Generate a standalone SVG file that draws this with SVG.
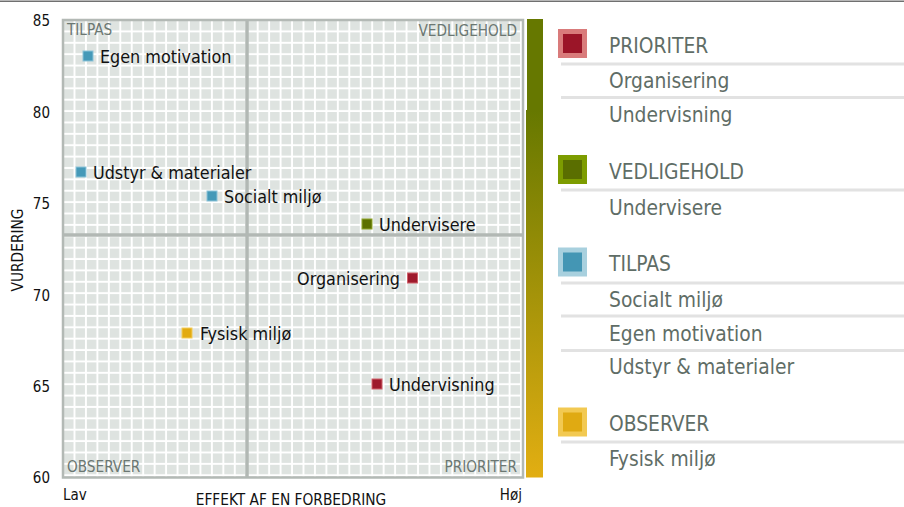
<svg xmlns="http://www.w3.org/2000/svg" width="904" height="507" viewBox="0 0 904 507">
<defs>
<style>
text{font-family:'DejaVu Sans Condensed','DejaVu Sans',sans-serif;font-stretch:condensed}
.ax{font-size:15px;fill:#111}
.xt{font-size:15.3px;fill:#111}
.q{font-size:15.2px;fill:#6b7772}
.lbl{font-size:17.8px;fill:#111}
.lg{font-size:20.8px;fill:#5f6d66}
.sep{stroke:#e2e2e2;stroke-width:3}
.div{stroke:#b2b8b4;stroke-width:3.5}
.mr{fill:#9e1a2c;stroke:#d0626b;stroke-width:1}
.mb{fill:#4599b8;stroke:#8cc3d8;stroke-width:1}
.mo{fill:#5c7000;stroke:#8fa52a;stroke-width:1}
.my{fill:#e2ab12;stroke:#f2cb58;stroke-width:1}
</style>
<pattern id="grid" x="64" y="21" width="11.45" height="11.38" patternUnits="userSpaceOnUse">
<rect width="11.45" height="11.38" fill="#ffffff"/>
<rect width="9.5" height="9.4" fill="#dee3e0"/>
</pattern>
<linearGradient id="bar" x1="0" y1="0" x2="0" y2="1">
<stop offset="0" stop-color="#667800"/>
<stop offset="1" stop-color="#e2ae12"/>
</linearGradient>
</defs>
<rect width="904" height="507" fill="#ffffff"/>
<line x1="0" y1="1.2" x2="904" y2="1.2" stroke="#707070" stroke-width="1.6"/>

<g id="plot">
<rect x="63" y="20" width="460" height="457.5" fill="url(#grid)" stroke="#b3b9b5" stroke-width="2.5"/>
<line class="div" x1="247" y1="20" x2="247" y2="477.5"/>
<line class="div" x1="63" y1="235" x2="523" y2="235"/>
<text class="q" x="67" y="35">TILPAS</text>
<text class="q" x="517" y="36" text-anchor="end">VEDLIGEHOLD</text>
<text class="q" x="67" y="472">OBSERVER</text>
<text class="q" x="517" y="472" text-anchor="end">PRIORITER</text>
</g>

<g id="gradient-bar">
<rect x="527" y="19" width="16" height="92" fill="#667800"/>
<rect x="526" y="110" width="17" height="367.5" fill="url(#bar)"/>
</g>

<g id="axes">
<text class="ax" x="50" y="26" text-anchor="end">85</text>
<text class="ax" x="50" y="117.5" text-anchor="end">80</text>
<text class="ax" x="50" y="209" text-anchor="end">75</text>
<text class="ax" x="50" y="300.5" text-anchor="end">70</text>
<text class="ax" x="50" y="392" text-anchor="end">65</text>
<text class="ax" x="50" y="483" text-anchor="end">60</text>
<text class="ax" x="63" y="500">Lav</text>
<text class="ax" x="522" y="500" text-anchor="end">Høj</text>
<text class="xt" x="291" y="504.5" text-anchor="middle">EFFEKT AF EN FORBEDRING</text>
<text class="xt" transform="translate(23,250) rotate(-90)" text-anchor="middle">VURDERING</text>
</g>

<g id="point-egen-motivation">
<rect class="mb" x="83" y="51" width="10" height="10"/>
<text class="lbl" x="100" y="63">Egen motivation</text>
</g>
<g id="point-udstyr">
<rect class="mb" x="76" y="167" width="10" height="10"/>
<text class="lbl" x="93" y="179">Udstyr &amp; materialer</text>
</g>
<g id="point-socialt-miljo">
<rect class="mb" x="207" y="191" width="10" height="10"/>
<text class="lbl" x="224" y="203">Socialt miljø</text>
</g>
<g id="point-undervisere">
<rect class="mo" x="362" y="219" width="10" height="10"/>
<text class="lbl" x="379" y="231">Undervisere</text>
</g>
<g id="point-organisering">
<rect class="mr" x="407.5" y="273" width="10" height="10"/>
<text class="lbl" x="400" y="285" text-anchor="end">Organisering</text>
</g>
<g id="point-fysisk-miljo">
<rect class="my" x="182" y="328" width="10" height="10"/>
<text class="lbl" x="200" y="340">Fysisk miljø</text>
</g>
<g id="point-undervisning">
<rect class="mr" x="372" y="379" width="10" height="10"/>
<text class="lbl" x="389" y="391">Undervisning</text>
</g>

<g id="legend-prioriter">
<rect x="558" y="29" width="29" height="29" fill="#d97b7b"/>
<rect x="563" y="34" width="19" height="19" fill="#9b1528"/>
<text class="lg" x="609" y="52.5">PRIORITER</text>
<line class="sep" x1="561" y1="64" x2="904" y2="64"/>
<text class="lg" x="609" y="88">Organisering</text>
<line class="sep" x1="561" y1="97.5" x2="904" y2="97.5"/>
<text class="lg" x="609" y="121.5">Undervisning</text>
</g>
<g id="legend-vedligehold">
<rect x="558" y="155" width="29" height="29" fill="#7d9c00"/>
<rect x="563" y="160" width="19" height="19" fill="#5a6e00"/>
<text class="lg" x="609" y="179">VEDLIGEHOLD</text>
<line class="sep" x1="561" y1="190" x2="904" y2="190"/>
<text class="lg" x="609" y="215">Undervisere</text>
</g>
<g id="legend-tilpas">
<rect x="558" y="247.5" width="29" height="29" fill="#a8d0de"/>
<rect x="563" y="252.5" width="19" height="19" fill="#4496b4"/>
<text class="lg" x="609" y="271">TILPAS</text>
<line class="sep" x1="561" y1="283" x2="904" y2="283"/>
<text class="lg" x="609" y="307">Socialt miljø</text>
<line class="sep" x1="561" y1="316" x2="904" y2="316"/>
<text class="lg" x="609" y="341">Egen motivation</text>
<line class="sep" x1="561" y1="350.5" x2="904" y2="350.5"/>
<text class="lg" x="609" y="374">Udstyr &amp; materialer</text>
</g>
<g id="legend-observer">
<rect x="558" y="407.5" width="29" height="29" fill="#f2c952"/>
<rect x="563" y="412.5" width="19" height="19" fill="#e0aa12"/>
<text class="lg" x="609" y="431">OBSERVER</text>
<line class="sep" x1="561" y1="442" x2="904" y2="442"/>
<text class="lg" x="609" y="466">Fysisk miljø</text>
</g>
</svg>
